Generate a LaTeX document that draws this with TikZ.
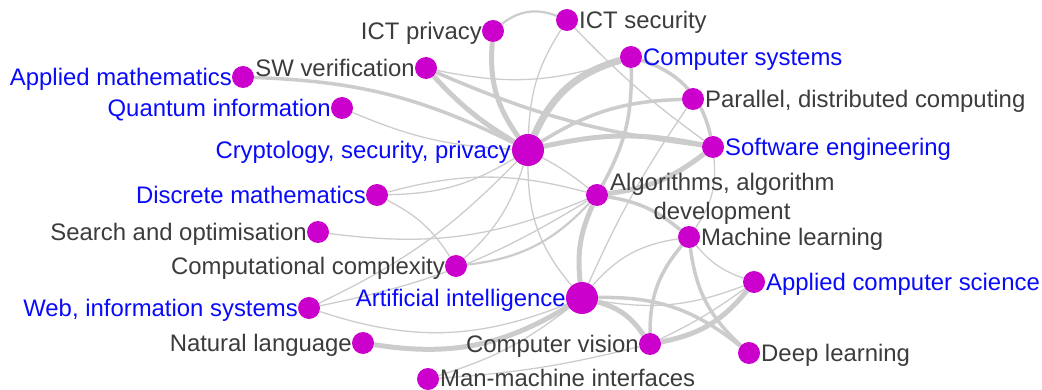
\documentclass[tikz,border=0pt]{standalone}
\usepackage{fontspec}
\setmainfont{Liberation Sans}
\usetikzlibrary{backgrounds}
\definecolor{nodec}{RGB}{204,0,204}
\definecolor{edgec}{RGB}{204,204,204}
\definecolor{txtb}{RGB}{10,10,250}
\definecolor{txtg}{RGB}{60,60,60}
\tikzset{
  dot/.style={circle, fill=nodec, draw=none, minimum size=22pt, inner sep=0pt},
  bigdot/.style={dot, minimum size=32pt},
  lbl/.style={inner sep=0pt, font=\fontsize{23.9}{28}\selectfont, text=txtg},
  lblL/.style={lbl, anchor=base east},
  lblR/.style={lbl, anchor=base west},
  blu/.style={text=txtb},
  e1/.style={draw=edgec, line width=1.3pt},
  e2/.style={draw=edgec, line width=2.2pt},
  e3/.style={draw=edgec, line width=3.5pt},
  e4/.style={draw=edgec, line width=5pt},
  e5/.style={draw=edgec, line width=7pt},
}
\begin{document}
\begin{tikzpicture}[x=1pt,y=-1pt]
\useasboundingbox (0,0) rectangle (1042,390);
% nodes
\node[dot] (ictp) at (493,31) {};
\node[dot] (ictsec) at (567,20) {};
\node[dot] (cs) at (631,57) {};
\node[dot] (par) at (693,99) {};
\node[dot] (se) at (713,147) {};
\node[dot] (am) at (243,77) {};
\node[dot] (swv) at (426,68) {};
\node[dot] (qi) at (342,108) {};
\node[bigdot] (crypt) at (528,150) {};
\node[dot] (dm) at (377,195) {};
\node[dot] (so) at (318,232) {};
\node[dot] (alg) at (597,195) {};
\node[dot] (cc) at (456,266) {};
\node[dot] (ml) at (689,237) {};
\node[dot] (acs) at (754,282) {};
\node[dot] (web) at (309,308) {};
\node[bigdot] (ai) at (582,298) {};
\node[dot] (nl) at (363,343) {};
\node[dot] (cv) at (650,344) {};
\node[dot] (dl) at (749,353) {};
\node[dot] (mmi) at (428,379) {};
% labels
\node[lblL] (ictp-l) at (482,39.5) {ICT privacy};
\node[lblR] (ictsec-l) at (579,28.5) {ICT security};
\node[lblR,blu] (cs-l) at (643,65.5) {Computer systems};
\node[lblR] (par-l) at (705,107.5) {Parallel, distributed computing};
\node[lblR,blu] (se-l) at (725,155.5) {Software engineering};
\node[lblL,blu] (am-l) at (232,85.5) {Applied mathematics};
\node[lblL] (swv-l) at (415,76.5) {SW verification};
\node[lblL,blu] (qi-l) at (331,116.5) {Quantum information};
\node[lblL,blu] (crypt-l) at (511,158.5) {Cryptology, security, privacy};
\node[lblL,blu] (dm-l) at (366,203.5) {Discrete mathematics};
\node[lblL] (so-l) at (307,240.5) {Search and optimisation};
\node[lblR] (alg-l1) at (610,190.5) {Algorithms, algorithm};
\node[lbl, anchor=base] (alg-l2) at (722,219.5) {development};
\node[lblL] (cc-l) at (445,274.5) {Computational complexity};
\node[lblR] (ml-l) at (701,245.5) {Machine learning};
\node[lblR,blu] (acs-l) at (766,290.5) {Applied computer science};
\node[lblL,blu] (web-l) at (298,316.5) {Web, information systems};
\node[lblL,blu] (ai-l) at (566,306.5) {Artificial intelligence};
\node[lblL] (nl-l) at (352,351.5) {Natural language};
\node[lblL] (cv-l) at (639,352.5) {Computer vision};
\node[lblR] (dl-l) at (761,361.5) {Deep learning};
\node[lblR] (mmi-l) at (440,386) {Man-machine interfaces};
% edges
\begin{pgfonlayer}{background}
\draw[e4] (ictp) to[bend right=20] (crypt);
\draw[e4] (swv) to[bend right=8] (crypt);
\draw[e5] (crypt) to[bend left=25] (cs);
\draw[e3] (crypt) to[bend left=15] (par);
\draw[e4] (crypt) to[bend left=12] (se);
\draw[e3] (am) to[bend left=12] (crypt);
\draw[e1] (qi) to[bend right=10] (crypt);
\draw[e1] (dm) to[bend right=15] (crypt);
\draw[e1] (dm) to[bend left=15] (alg);
\draw[e1] (dm) to[bend left=15] (cc);
\draw[e1] (so) to[bend right=15] (alg);
\draw[e2] (cc) to[bend right=20] (alg);
\draw[e1] (cc) to[bend right=15] (crypt);
\draw[e1] (web) to[bend right=10] (crypt);
\draw[e1] (web) to[bend right=10] (alg);
\draw[e1] (web) to[bend right=20] (ai);
\draw[e4] (nl) to[bend right=20] (ai);
\draw[e1] (mmi) to[bend right=10] (ai);
\draw[e1] (mmi) to[bend right=5] (cv);
\draw[e4] (ai) to[bend left=20] (cv);
\draw[e3] (ai) to[bend left=20] (dl);
\draw[e4] (acs) to[bend left=20] (cv);
\draw[e1] (acs) to[bend left=5] (cv);
\draw[e1] (acs) to[bend left=15] (ai);
\draw[e1] (ml) to[bend right=15] (acs);
\draw[e3] (ml) to[bend right=20] (cv);
\draw[e3] (ml) to[bend right=20] (dl);
\draw[e1] (ai) to[bend left=20] (ml);
\draw[e3] (alg) to[bend left=15] (ml);
\draw[e4] (alg) to[bend right=15] (ai);
\draw[e4] (se) to[bend left=15] (alg);
\draw[e3] (cs) to[bend left=15] (alg);
\draw[e3] (cs) to[bend left=30] (se);
\draw[e1] (swv) to[bend right=15] (cs);
\draw[e3] (swv) to[bend right=8] (se);
\draw[e2] (ictp) to[bend left=30] (ictsec);
\draw[e1] (ictsec) to[bend right=15] (crypt);
\draw[e1] (ictsec) to[bend right=5] (se);
\draw[e1] (par) to[bend right=5] (ai);
\draw[e1] (crypt) to[bend left=5] (alg);
\draw[e1] (crypt) to[bend right=20] (ai);
\draw[e1] (se) to[bend left=20] (ml);
\end{pgfonlayer}
\end{tikzpicture}
\end{document}
